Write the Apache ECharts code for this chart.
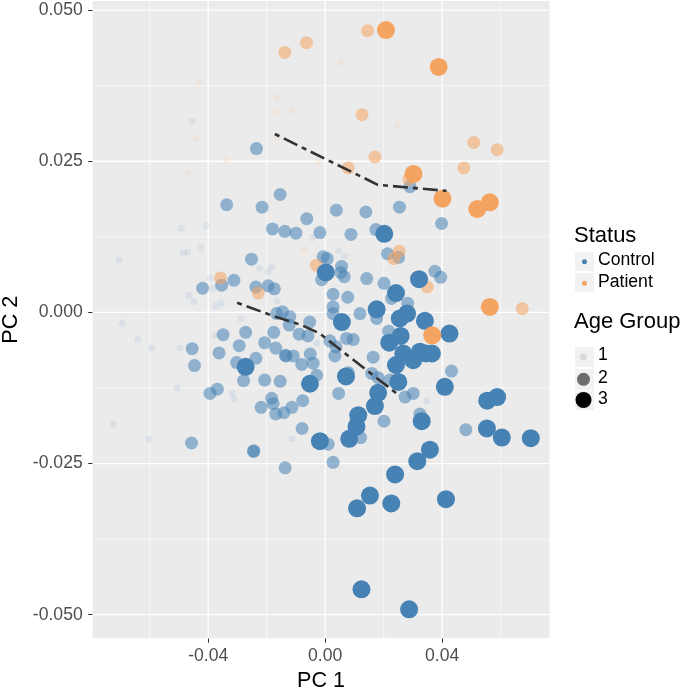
<!DOCTYPE html>
<html>
<head>
<meta charset="utf-8">
<script src="https://cdn.jsdelivr.net/npm/echarts@6/dist/echarts.min.js"></script>
<style>
html,body{margin:0;padding:0;background:#fff;}
#c{width:685px;height:692px;}
</style>
</head>
<body>
<div id="c"></div>
<script>
// ---- data (PC 1, PC 2) ----
const ctrlAge1 = [
[-0.0455,0.0316],[-0.0492,0.0139],[-0.0406,0.0143],[-0.0043,0.0124],[-0.0486,0.0098],[-0.0470,0.0100],[-0.0427,0.0107],[-0.0705,0.0087],[-0.0224,0.0073],[-0.0183,0.0075],[-0.0195,0.0067],[-0.0394,0.0057],[-0.0383,0.0040],[-0.0164,0.0019],[-0.0466,0.0028],[-0.0449,0.0018],[-0.0376,0.0010],[-0.0357,0.0015],[-0.0288,-0.0010],[0.0046,0.0102],[0.0066,0.0093],[-0.0694,-0.0018],[-0.0641,-0.0045],[-0.0594,-0.0059],[-0.0497,-0.0059],[-0.0377,-0.0038],[-0.0029,-0.0051],[-0.0506,-0.0125],[-0.0318,-0.0134],[-0.0312,-0.0143],[-0.0114,-0.0209],[-0.0726,-0.0185],[-0.0604,-0.0210],[0.0347,-0.0147]
];
const ctrlAge2 = [
[-0.0235,0.0271],[-0.0154,0.0195],[-0.0337,0.0178],[-0.0216,0.0174],[-0.0063,0.0155],[-0.0180,0.0138],[-0.0138,0.0134],[-0.0100,0.0131],[-0.0018,0.0132],[-0.0252,0.0088],[-0.0312,0.0053],[-0.0354,0.0045],[-0.0419,0.0040],[-0.0237,0.0042],[-0.0195,0.0044],[-0.0174,0.0039],[-0.0166,-0.0002],[-0.0146,0.0001],[-0.0121,-0.0007],[-0.0053,-0.0016],
[0.0038,0.0169],[0.0139,0.0166],[0.0254,0.0174],[0.0398,0.0147],[0.0088,0.0129],[0.0173,0.0137],[0.0290,0.0208],[-0.0007,0.0092],[0.0007,0.0089],[0.0056,0.0076],[0.0053,0.0066],[0.0065,0.0059],[-0.0012,0.0054],[0.0213,0.0097],[0.0251,0.0091],[0.0142,0.0056],[0.0201,0.0048],[0.0375,0.0068],[0.0395,0.0058],[0.0227,0.0023],[0.0027,0.0030],[0.0077,0.0025],[0.0027,0.0009],[0.0027,-0.0002],[0.0119,-0.0002],[0.0282,0.0015],
[-0.0272,-0.0033],[-0.0349,-0.0037],[-0.0455,-0.0060],[-0.0447,-0.0088],[-0.0363,-0.0067],[-0.0294,-0.0055],[-0.0237,-0.0076],[-0.0303,-0.0083],[-0.0279,-0.0113],[-0.0207,-0.0050],[-0.0176,-0.0033],[-0.0169,-0.0059],[-0.0134,-0.0072],[-0.0136,-0.0071],[-0.0109,-0.0072],[-0.0089,-0.0036],[-0.0059,-0.0039],[-0.0123,-0.0021],[-0.0051,-0.0069],[-0.0080,-0.0086],[-0.0041,-0.0084],[-0.0029,-0.0104],[-0.0207,-0.0112],[-0.0154,-0.0114],[-0.0394,-0.0134],[-0.0369,-0.0127],[-0.0219,-0.0157],[-0.0183,-0.0142],[-0.0178,-0.0151],[-0.0169,-0.0168],[-0.0141,-0.0166],[-0.0114,-0.0157],[-0.0077,-0.0146],[-0.0079,-0.0192],[-0.0457,-0.0216],[-0.0244,-0.0229],[-0.0245,-0.0230],[-0.0137,-0.0257],
[0.0176,-0.0010],[0.0217,-0.0031],[0.0016,-0.0047],[0.0073,-0.0043],[0.0096,-0.0045],[0.0037,-0.0057],[0.0033,-0.0072],[0.0164,-0.0074],[0.0079,-0.0100],[0.0159,-0.0101],[0.0181,-0.0108],[0.0221,-0.0112],[0.0432,-0.0097],[0.0046,-0.0134],[0.0273,-0.0140],[0.0301,-0.0134],[0.0121,-0.0207],[0.0201,-0.0180],[0.0324,-0.0168],[0.0010,-0.0218],[0.0027,-0.0248],[0.0481,-0.0194]
];
const ctrlAge3 = [
[0.0202,0.0130],[0.0002,0.0066],[0.0321,0.0055],[0.0242,0.0032],[0.0176,0.0005],[0.0280,-0.0002],[0.0255,-0.0010],[0.0057,-0.0016],[0.0341,-0.0014],[0.0425,-0.0035],[0.0219,-0.0050],[0.0258,-0.0039],[0.0267,-0.0068],[0.0324,-0.0065],[0.0344,-0.0068],[0.0365,-0.0068],[0.0301,-0.0079],[0.0242,-0.0087],[-0.0272,-0.0090],[-0.0052,-0.0118],[0.0071,-0.0106],[0.0250,-0.0115],[0.0409,-0.0123],[0.0181,-0.0133],[0.0170,-0.0155],[0.0554,-0.0146],[0.0588,-0.0140],[0.0113,-0.0170],[0.0107,-0.0189],[0.0082,-0.0209],[0.0330,-0.0180],[-0.0018,-0.0213],[0.0553,-0.0192],[0.0604,-0.0207],[0.0703,-0.0208],[0.0358,-0.0227],[0.0315,-0.0246],[0.0239,-0.0268],[0.0153,-0.0303],[0.0109,-0.0324],[0.0226,-0.0316],[0.0413,-0.0309],[0.0124,-0.0458],[0.0287,-0.0491]
];
const patAge1 = [
[-0.0432,0.0381],[-0.0165,0.0356],[-0.0170,0.0332],[-0.0115,0.0334],[-0.0440,0.0287],[-0.0337,0.0253],[-0.0161,0.0291],[0.0053,0.0414],[0.0248,0.0310],[-0.0022,0.0249],[-0.0470,0.0231],[-0.0072,0.0103]
];
const patAge2 = [
[-0.0138,0.0430],[-0.0064,0.0446],[0.0145,0.0466],[0.0126,0.0327],[0.0508,0.0281],[0.0588,0.0269],[0.0170,0.0257],[0.0079,0.0239],[0.0286,0.0220],[0.0474,0.0239],[0.0253,0.0101],[0.0235,0.0089],[-0.0030,0.0078],[-0.0358,0.0057],[-0.0229,0.0032],[0.0349,0.0042],[0.0674,0.0006]
];
const patAge3 = [
[0.0208,0.0467],[0.0388,0.0406],[0.0302,0.0229],[0.0401,0.0188],[0.0520,0.0171],[0.0563,0.0182],[0.0563,0.0009],[0.0366,-0.0038]
];
const curveUpper = [[-0.0172,0.0295],[0.0180,0.0211],[0.0415,0.0201]];
const curveLower = [[-0.0301,0.0016],[-0.0183,-0.0005],[-0.0081,-0.0021],[-0.0018,-0.0035],[0.0010,-0.0046],[0.0244,-0.0134]];

const xTicks = [-0.04, 0, 0.04];
const yTicks = [-0.05, -0.025, 0, 0.025, 0.05];
const xMinor = [-0.06, -0.02, 0.02, 0.06];
const yMinor = [-0.0375, -0.0125, 0.0125, 0.0375];
const xRange = [-0.0795, 0.0767];
const yRange = [-0.0539, 0.0515];

const statusLabels = ['Control', 'Patient'];
const ageLabels = ['1', '2', '3'];

// ---- styling ----
const FONT = 'Liberation Sans, Arial, sans-serif';
const CTRL = '#4682B4', PAT = '#F4A460';
const ALPHA = [0.1, 0.55, 1];
const SIZE = [7, 13, 18];

const chart = echarts.init(document.getElementById('c'), null, {renderer: 'canvas'});

function pts(name, data, color, age) {
  return {
    type: 'scatter', name: name, data: data, z: 2,
    symbol: 'circle', symbolSize: SIZE[age],
    itemStyle: {color: color, opacity: ALPHA[age], borderWidth: 0},
    emphasis: {disabled: true}, silent: true
  };
}
function gridLine(data, width) {
  return {type: 'line', data: data, z: 1, symbol: 'none', showSymbol: false, silent: true,
    label: {show: false}, endLabel: {show: false},
    lineStyle: {color: '#FFFFFF', width: width, type: 'solid'}, emphasis: {disabled: true}};
}
const gridSeries = [];
xMinor.forEach(v => gridSeries.push(gridLine([[v, yRange[0]], [v, yRange[1]]], 0.6)));
yMinor.forEach(v => gridSeries.push(gridLine([[xRange[0], v], [xRange[1], v]], 0.6)));
xTicks.forEach(v => gridSeries.push(gridLine([[v, yRange[0]], [v, yRange[1]]], 1.3)));
yTicks.forEach(v => gridSeries.push(gridLine([[xRange[0], v], [xRange[1], v]], 1.3)));

const legendGraphics = [];
function txt(x, y, s, size) {
  legendGraphics.push({type: 'text', left: x, top: y - size * 0.6, silent: true,
    style: {text: s, fill: '#000', font: size + 'px ' + FONT, textVerticalAlign: 'top'}});
}
function box(x, y, w, h) {
  legendGraphics.push({type: 'rect', shape: {x: x, y: y, width: w, height: h}, silent: true,
    style: {fill: '#F2F2F2'}});
}
function dot(cx, cy, d, color, op) {
  legendGraphics.push({type: 'circle', shape: {cx: cx, cy: cy, r: d / 2}, silent: true,
    style: {fill: color, opacity: op}});
}
// Status legend
txt(574, 238, 'Status', 22);
box(575, 252, 19, 19); box(575, 273, 19, 19);
dot(584.5, 261.7, 5, CTRL, 1); dot(584.5, 283.3, 5, PAT, 1);
txt(598, 262, statusLabels[0], 17.6); txt(598, 284, statusLabels[1], 17.6);
// Age legend
txt(574, 324, 'Age Group', 22);
box(575, 347, 19, 20); box(575, 369, 19, 21); box(575, 391, 19, 19);
dot(583.5, 356.7, SIZE[0], '#000', ALPHA[0]);
dot(583.5, 379.3, SIZE[1], '#000', ALPHA[1]);
dot(583.5, 400, 16, '#000', ALPHA[2]);
txt(598, 357, ageLabels[0], 17.6); txt(598, 379.5, ageLabels[1], 17.6); txt(598, 400.5, ageLabels[2], 17.6);

const option = {
  animation: false,
  backgroundColor: '#ffffff',
  grid: {left: 92.7, right: 135.5, top: 1, bottom: 53.7, show: true,
    containLabel: false, outerBoundsMode: 'none',
    backgroundColor: '#EBEBEB', borderWidth: 0},
  xAxis: {
    type: 'value', min: xRange[0], max: xRange[1],
    name: 'PC 1', nameLocation: 'middle', nameGap: 31,
    nameTextStyle: {fontSize: 21.6, color: '#000', fontFamily: FONT},
    axisLine: {show: false, onZero: false},
    axisTick: {show: true, length: 4.5, customValues: xTicks, lineStyle: {color: '#333333', width: 1}},
    axisLabel: {customValues: xTicks, margin: 9, fontSize: 17.6, color: '#4D4D4D', fontFamily: FONT,
      formatter: v => Number(v).toFixed(2)},
    splitLine: {show: false},
    axisPointer: {show: false}
  },
  yAxis: {
    type: 'value', min: yRange[0], max: yRange[1],
    name: 'PC 2', nameLocation: 'middle', nameGap: 66, nameRotate: 90,
    nameTextStyle: {fontSize: 21.6, color: '#000', fontFamily: FONT},
    axisLine: {show: false, onZero: false},
    axisTick: {show: true, length: 4.5, customValues: yTicks, lineStyle: {color: '#333333', width: 1}},
    axisLabel: {customValues: yTicks, margin: 10, fontSize: 17.6, color: '#4D4D4D', fontFamily: FONT,
      formatter: v => Number(v).toFixed(3)},
    splitLine: {show: false},
    axisPointer: {show: false}
  },
  series: gridSeries.concat([
    pts('Control-1', ctrlAge1, CTRL, 0),
    pts('Patient-1', patAge1, PAT, 0),
    pts('Control-2', ctrlAge2, CTRL, 1),
    pts('Patient-2', patAge2, PAT, 1),
    pts('Control-3', ctrlAge3, CTRL, 2),
    pts('Patient-3', patAge3, PAT, 2),
    {type: 'line', data: curveUpper, z: 5, symbol: 'none', silent: true,
      lineStyle: {color: '#333333', width: 2.6, type: [5, 5, 15, 5]}},
    {type: 'line', data: curveLower, z: 5, symbol: 'none', silent: true,
      lineStyle: {color: '#333333', width: 2.6, type: [5, 5, 15, 5]}}
  ]),
  graphic: legendGraphics
};
chart.setOption(option);
</script>
</body>
</html>
